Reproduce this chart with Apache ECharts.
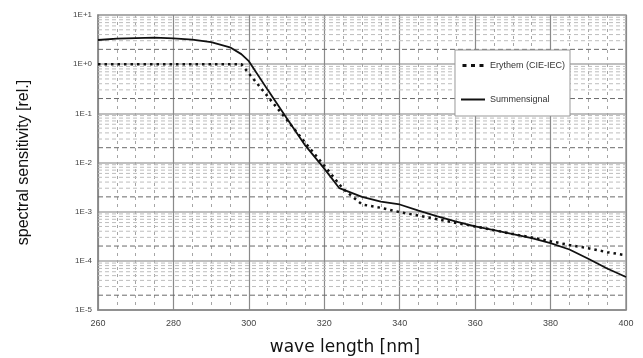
<!DOCTYPE html>
<html><head><meta charset="utf-8">
<script src="https://cdn.jsdelivr.net/npm/echarts@6/dist/echarts.min.js"></script>
<style>html,body{margin:0;padding:0;background:#fff}#c{width:643px;height:358px}</style>
</head><body><div id="c"></div>
<script>
var wavelengths = [260,265,270,275,280,285,290,295,298,300,305,310,315,320,324,325,330,335,340,345,350,355,360,365,370,375,380,385,390,395,400];
var erythem = [1,1,1,1,1,1,1,1,1,0.65,0.22,0.075,0.025,0.0086,null,0.0029,0.0014,0.0012,0.00098,0.00083,0.0007,0.00059,0.0005,0.00042,0.00035,0.0003,0.00025,0.00021,0.00018,0.00015,0.00013];
var summensignal = [3.1,3.3,3.4,3.45,3.35,3.15,2.8,2.2,1.6,1.15,0.3,0.08,0.022,0.0075,0.003,null,0.002,0.0016,0.0014,0.00105,0.0008,0.00063,0.0005,0.00042,0.00035,0.00029,0.00023,0.00017,0.00011,0.00007,0.000047];
var decades = [1e-5,1e-4,1e-3,1e-2,1e-1,1,10];
var minorMultipliers = [3,4,5,6,7,8,9];
var strongMultipliers = [2];
var xRange = [260,400];

function pairs(ys){var out=[];for(var i=0;i<wavelengths.length;i++){if(ys[i]!=null)out.push([wavelengths[i],ys[i]]);}return out;}
var gridSeries=[];
function addGrid(v,color,dash){
  gridSeries.push({type:'line',silent:true,symbol:'none',z:1,animation:false,
    data:[[xRange[0],v],[xRange[1],v]],
    lineStyle:{color:color,type:dash,width:1},tooltip:{show:false}});
}
for(var d=0; d<decades.length-1; d++){
  minorMultipliers.forEach(function(m){addGrid(+(decades[d]*m).toPrecision(6),'#bdbdbd',[4,3]);});
  strongMultipliers.forEach(function(m){addGrid(+(decades[d]*m).toPrecision(6),'#6a6a6a',[5,3]);});
}
var dotIcon='path://M0,0h4v3h-4zM8.5,0h4v3h-4zM17,0h4v3h-4z';
var lineIcon='path://M0,0h24v2h-24z';
var chart = echarts.init(document.getElementById('c'));
chart.setOption({
  animation:false,
  backgroundColor:'#fff',
  grid:{left:98,right:17,top:15,bottom:48,show:true,borderColor:'#999',borderWidth:1.5,outerBoundsMode:'none',containLabel:false},
  legend:{
    right:73,top:50,orient:'vertical',itemGap:25,itemWidth:24,itemHeight:3,itemTextGap:4,
    padding:[11,5,12,6],
    backgroundColor:'#fff',borderColor:'#999',borderWidth:1,
    textStyle:{fontFamily:'Liberation Sans, Arial',fontSize:9,color:'#333'},
    data:[{name:'Erythem (CIE-IEC)',icon:dotIcon,itemStyle:{color:'#111'}},
          {name:'Summensignal',icon:lineIcon,itemStyle:{color:'#111'}}]
  },
  xAxis:{
    type:'value',min:260,max:400,interval:20,
    axisLine:{show:true,lineStyle:{color:'#888',width:1.5}},
    axisTick:{show:false},
    axisLabel:{fontFamily:'Liberation Sans, Arial',fontSize:9,color:'#444',margin:9},
    splitLine:{show:true,lineStyle:{color:'#8a8a8a',width:1.2}},
    minorTick:{show:false,splitNumber:4},
    minorSplitLine:{show:true,lineStyle:{color:'#a5a5a5',type:[3,4],width:1}},
    name:'wave length [nm]',nameLocation:'middle',nameGap:29,
    nameTextStyle:{fontFamily:'DejaVu Sans, Arial',fontSize:17,color:'#111',padding:[0,34,0,0]}
  },
  yAxis:{
    type:'log',logBase:10,min:1e-5,max:10,
    axisLine:{show:true,lineStyle:{color:'#888',width:1.5}},
    axisTick:{show:false},
    axisLabel:{fontFamily:'Liberation Sans, Arial',fontSize:8,color:'#444',margin:6,
      formatter:function(v){var e=Math.round(Math.log10(v));return '1E'+(e>=0?'+':'')+e;}},
    splitLine:{show:true,lineStyle:{color:'#aaa',width:1.5}},
    name:'spectral sensitivity [rel.]',nameLocation:'middle',nameGap:66,nameRotate:90,
    nameTextStyle:{fontFamily:'Liberation Sans, Arial',fontSize:16,color:'#111'}
  },
  series:gridSeries.concat([
    {name:'Erythem (CIE-IEC)',type:'line',data:pairs(erythem),showSymbol:false,symbol:'none',z:5,
      lineStyle:{color:'#111',width:2.5,type:[2.5,4]},itemStyle:{color:'#111'}},
    {name:'Summensignal',type:'line',data:pairs(summensignal),showSymbol:false,symbol:'none',z:6,
      lineStyle:{color:'#111',width:1.8,type:'solid'},itemStyle:{color:'#111'}}
  ])
});
</script></body></html>
